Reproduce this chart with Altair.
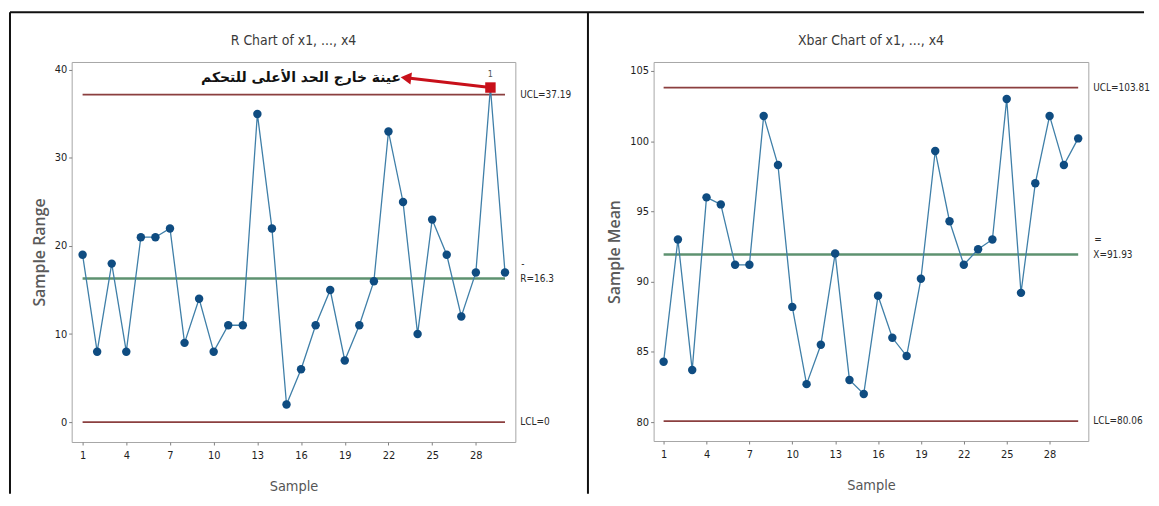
import altair as alt
import pandas as pd

# ---------------- data ----------------
samples = list(range(1, 31))
r_values = [19, 8, 18, 8, 21, 21, 22, 9, 14, 8, 11, 11, 35, 22, 2,
            6, 11, 15, 7, 11, 16, 33, 25, 10, 23, 19, 12, 17, 38, 17]
xbar_values = [84.3, 93.0, 83.7, 96.0, 95.5, 91.2, 91.2, 101.8, 98.3, 88.2,
               82.7, 85.5, 92.0, 83.0, 82.0, 89.0, 86.0, 84.7, 90.2, 99.3,
               94.3, 91.2, 92.3, 93.0, 103.0, 89.2, 97.0, 101.8, 98.3, 100.2]

panel_titles = ["R Chart of x1, ..., x4", "Xbar Chart of x1, ..., x4"]
y_titles = ["Sample Range", "Sample Mean"]

limit_kinds = ["UCL", "CL", "LCL"]
r_limit_values = [37.19, 16.3, 0.0]
xbar_limit_values = [103.81, 91.93, 80.06]
r_limit_labels = ["UCL=37.19", "R=16.3", "LCL=0"]
xbar_limit_labels = ["UCL=103.81", "X=91.93", "LCL=80.06"]
r_bar_marks = ["", "-", ""]
xbar_bar_marks = ["", "=", ""]
limit_start = [1, 1, 1]
limit_end = [30, 30, 30]

x_tick_values = [1, 4, 7, 10, 13, 16, 19, 22, 25, 28]
r_tick_values = [0, 10, 20, 30, 40]
xbar_tick_values = [80, 85, 90, 95, 100, 105]

r_x_domain = [0.25, 30.71]
r_y_domain = [-2.26, 40.9]
xbar_x_domain = [0.30, 30.71]
xbar_y_domain = [78.65, 105.64]

out_samples = [29]
out_flag_label = ["1"]
annotation_text = ["عينة خارج الحد الأعلى للتحكم"]
annotation_x = [16.0]
annotation_y = [39.1]
arrow_x_start = [29.0]
arrow_y_start = [38.0]
arrow_x_end = [23.2]
arrow_y_end = [39.1]

NARROW = "DejaVu Sans Condensed, Liberation Sans Narrow, sans-serif"
WIDE = "Open Sans, Noto Sans, sans-serif"

LINE_COLOR = "#3f7fa8"
POINT_COLOR = "#0f4c81"
LIMIT_COLOR = "#8b3f3f"
CL_COLOR = "#5e9270"
OUT_COLOR = "#c8101a"


def make_x(field, domain):
    return alt.X(f"{field}:Q", scale=alt.Scale(domain=domain, nice=False, zero=False),
                 axis=alt.Axis(values=x_tick_values), title="Sample")


def make_y(field, domain, ticks, title):
    return alt.Y(f"{field}:Q", scale=alt.Scale(domain=domain, nice=False, zero=False),
                 axis=alt.Axis(values=ticks), title=title)


one_row = pd.DataFrame({"k": [0]})


def panel(values, lim_values, lim_labels, bar_marks, x_domain, y_domain, y_ticks,
          y_title, title, width, height, with_out=False, extra_layers=()):
    df = pd.DataFrame({"sample": samples, "value": values,
                       "out": [(s in out_samples) and with_out for s in samples]})
    lim = pd.DataFrame({"kind": limit_kinds, "value": lim_values, "label": lim_labels,
                        "bar": bar_marks, "start": limit_start, "end": limit_end})
    X = lambda f: make_x(f, x_domain)
    Y = lambda f: make_y(f, y_domain, y_ticks, y_title)

    limits = alt.Chart(lim).transform_filter(alt.datum.kind != "CL").mark_rule(
        color=LIMIT_COLOR, strokeWidth=1.8).encode(x=X("start"), x2="end:Q", y=Y("value"))
    center = alt.Chart(lim).transform_filter(alt.datum.kind == "CL").mark_rule(
        color=CL_COLOR, strokeWidth=2.5).encode(x=X("start"), x2="end:Q", y=Y("value"))
    line = alt.Chart(df).mark_line(color=LINE_COLOR, strokeWidth=1.3).encode(
        x=X("sample"), y=Y("value"))
    pts = alt.Chart(df).transform_filter(alt.datum.out == False).mark_point(
        filled=True, shape="circle", size=72, color=POINT_COLOR, opacity=1).encode(
        x=X("sample"), y=Y("value"))
    labels = alt.Chart(lim).mark_text(align="left", baseline="middle", font=NARROW,
                                      fontSize=10, color="#2a2a2a").encode(
        x=alt.value(width + 5), y=Y("value"), text="label:N")
    bars = alt.Chart(lim).mark_text(align="left", baseline="middle", font=NARROW,
                                    fontSize=10, color="#2a2a2a", dy=-15, dx=1).encode(
        x=alt.value(width + 5), y=Y("value"), text="bar:N")
    ttl = alt.Chart(one_row).mark_text(align="center", baseline="middle", font=NARROW,
                                       fontSize=14, color="#3a3a3a").encode(
        x=alt.value(width / 2), y=alt.value(-21), text=alt.value(title))
    layers = [limits, center, line, pts, labels, bars, ttl] + list(extra_layers)
    return alt.layer(*layers).properties(width=width, height=height)


# extra layers for R chart: out-of-control marker, annotation, outer frame
out_df = pd.DataFrame({"sample": out_samples, "value": [r_values[s - 1] for s in out_samples],
                       "flag": out_flag_label})
ann_df = pd.DataFrame({"x": annotation_x, "y": annotation_y, "text": annotation_text})
arrow_df = pd.DataFrame({"x": arrow_x_start, "y": arrow_y_start, "x2": arrow_x_end, "y2": arrow_y_end})

RX = lambda f: make_x(f, r_x_domain)
RY = lambda f: make_y(f, r_y_domain, r_tick_values, y_titles[0])

arrow = alt.Chart(arrow_df).mark_rule(color=OUT_COLOR, strokeWidth=3).encode(
    x=RX("x"), y=RY("y"), x2="x2:Q", y2="y2:Q")
arrow_head = alt.Chart(arrow_df).mark_point(shape="triangle-left", filled=True, size=150,
                                            color=OUT_COLOR, opacity=1, angle=7).encode(
    x=RX("x2"), y=RY("y2"))
out_pt = alt.Chart(out_df).mark_point(shape="square", filled=True, size=110,
                                      color=OUT_COLOR, opacity=1).encode(
    x=RX("sample"), y=RY("value"))
out_lbl = alt.Chart(out_df).mark_text(font=NARROW, fontSize=9, color="#555555", dy=-14).encode(
    x=RX("sample"), y=RY("value"), text="flag:N")
ann = alt.Chart(ann_df).mark_text(font="DejaVu Sans", fontWeight="bold", fontSize=14,
                                  color="#111111", baseline="middle").encode(
    x=RX("x"), y=RY("y"), text="text:N")
frame_top = alt.Chart(one_row).mark_rule(color="#111111", strokeWidth=2).encode(
    x=alt.value(-62), x2=alt.value(1078), y=alt.value(-50))
frame_left = alt.Chart(one_row).mark_rule(color="#111111", strokeWidth=2).encode(
    x=alt.value(-62), y=alt.value(-50), y2=alt.value(434))
frame_mid = alt.Chart(one_row).mark_rule(color="#111111", strokeWidth=2).encode(
    x=alt.value(519), y=alt.value(-50), y2=alt.value(434))

left = panel(r_values, r_limit_values, r_limit_labels, r_bar_marks, r_x_domain, r_y_domain,
             r_tick_values, y_titles[0], panel_titles[0], 446, 382, with_out=True,
             extra_layers=[arrow, arrow_head, out_pt, out_lbl, ann, frame_top, frame_left, frame_mid])
right = panel(xbar_values, xbar_limit_values, xbar_limit_labels, xbar_bar_marks, xbar_x_domain,
              xbar_y_domain, xbar_tick_values, y_titles[1], panel_titles[1], 437, 381)

chart = alt.hconcat(left, right, spacing=139, bounds="flush").properties(
    padding={"left": 0, "top": 1, "right": 0, "bottom": 0}
).configure_view(stroke="#a6a6a6", strokeWidth=1).configure_axis(
    domain=False, grid=False, ticks=True, tickSize=3, tickColor="#7f7f7f",
    labelFont=NARROW, labelFontSize=11, labelColor="#1e1e1e"
).configure_axisX(
    labelPadding=5, titleFont=NARROW, titleFontSize=14.5, titleFontWeight="normal",
    titleColor="#555555", titlePadding=19
).configure_axisY(
    labelPadding=2, titleFont=WIDE, titleFontSize=16, titleFontWeight=600,
    titleColor="#5a5a5a", titlePadding=7
)

chart.save("out.html", embed_options={"renderer": "svg", "actions": False})
